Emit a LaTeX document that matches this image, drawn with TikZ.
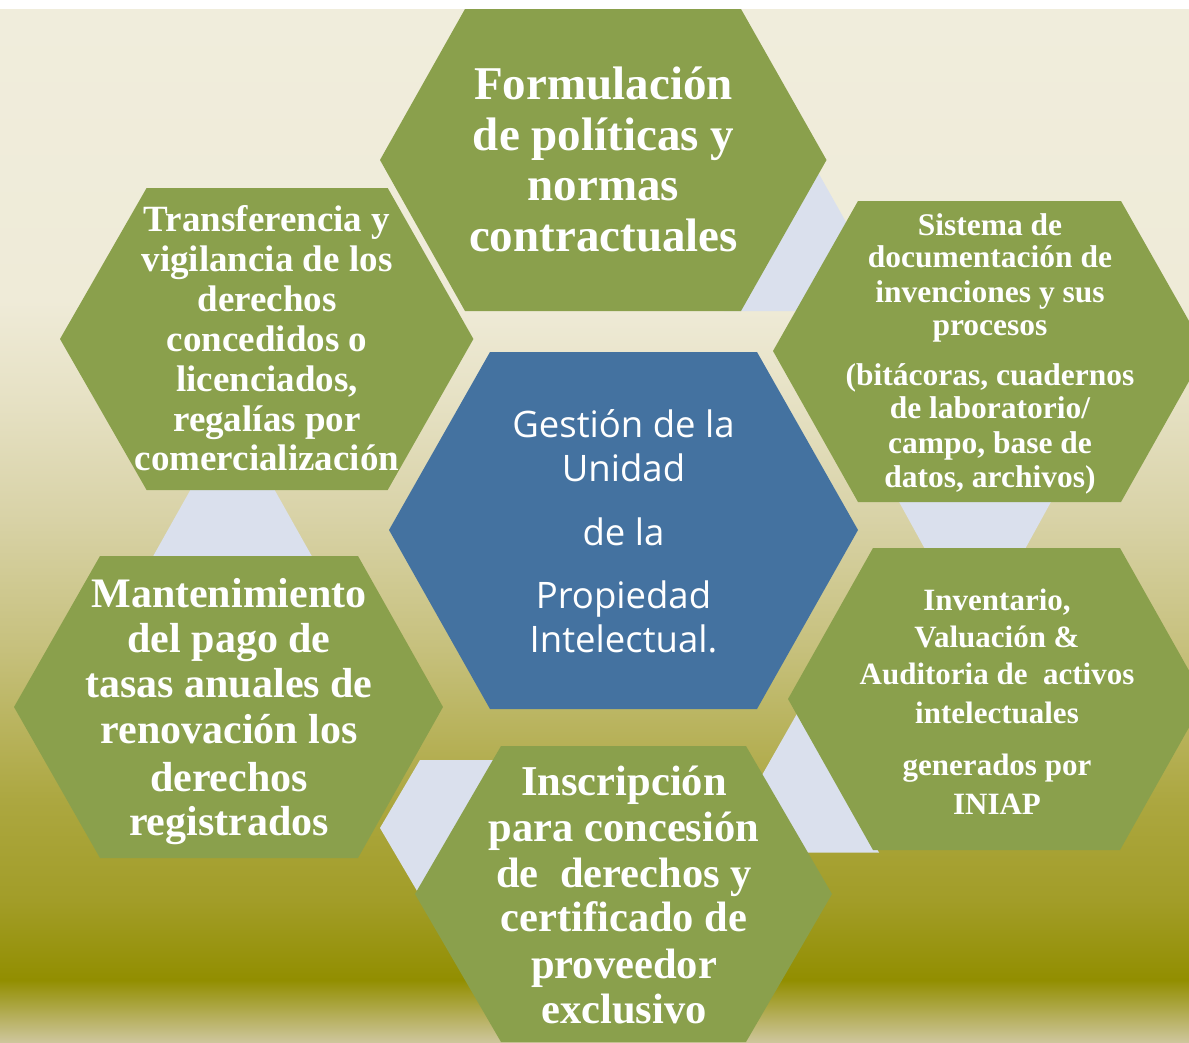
\documentclass[tikz,border=0pt]{standalone}
\usepackage{fontspec}
\setmainfont{Liberation Serif}
\newfontfamily\csans{Open Sans}
\definecolor{hexgreen}{RGB}{138,160,76}
\definecolor{hexblue}{RGB}{68,114,160}
\definecolor{connblue}{RGB}{218,224,237}
\definecolor{g0}{RGB}{240,237,220}
\definecolor{g1}{RGB}{239,235,216}
\definecolor{g2}{RGB}{230,225,196}
\definecolor{g3}{RGB}{216,210,166}
\definecolor{g4}{RGB}{198,192,124}
\definecolor{g5}{RGB}{172,167,64}
\definecolor{g6}{RGB}{162,157,40}
\definecolor{g7}{RGB}{146,142,0}
\definecolor{g8}{RGB}{206,198,156}
\tikzset{
  greenhex/.style={fill=hexgreen},
  bluehex/.style={fill=hexblue},
  connpart/.style={fill=connblue},
  gtxt/.style={text=white, inner sep=0pt, anchor=base},
  ftop/.style={gtxt, font=\bfseries\fontsize{47}{50}\selectfont},
  ftrans/.style={gtxt, font=\bfseries\fontsize{37}{40}\selectfont},
  fsis/.style={gtxt, font=\bfseries\fontsize{31.5}{34}\selectfont},
  fmant/.style={gtxt, font=\bfseries\fontsize{42}{45}\selectfont},
  finv/.style={gtxt, font=\bfseries\fontsize{31}{34}\selectfont},
  fins/.style={gtxt, font=\bfseries\fontsize{42.5}{45}\selectfont},
  fcen/.style={gtxt, font=\csans\fontsize{36.5}{40}\selectfont},
}
\begin{document}
\begin{tikzpicture}[x=1pt,y=-1pt]
\useasboundingbox (0,0) rectangle (1189,1042);
\clip (0,0) rectangle (1189,1042);
% background
\fill[white] (0,0) rectangle (1189,1042);
\foreach \ya/\yb/\ca/\cb in {9/300.5/g0/g1, 300/400.5/g1/g2, 400/520.5/g2/g3, 520/650.5/g3/g4, 650/800.5/g4/g5, 800/900.5/g5/g6, 900/980.5/g6/g7, 980/1042/g7/g8}
  \shade[top color=\ca, bottom color=\cb] (0,\ya) rectangle (1189,\yb);
% light blue connecting pieces
\fill[connpart] (724,311) -- (810,158) -- (896,311) -- cycle;
\fill[connpart] (898,500) -- (1052,500) -- (975,640) -- cycle;
\fill[connpart] (718,852.5) -- (798.5,711) -- (879,852.5) -- cycle;
\fill[connpart] (420,760) -- (560,760) -- (600,828) -- (560,896) -- (420,896) -- (380,828) -- cycle;
\fill[connpart] (151,560) -- (232.5,415) -- (314,560) -- cycle;
% hexagons
\fill[greenhex] (465,9) -- (741,9) -- (826.5,160) -- (741,311) -- (465,311) -- (380,160) -- cycle;
\fill[greenhex] (146.6,188) -- (387.7,188) -- (473.4,339) -- (387.7,490) -- (146.6,490) -- (60,339) -- cycle;
\fill[greenhex] (858,201) -- (1121,201) -- (1206,351) -- (1121,502) -- (858,502) -- (773,351) -- cycle;
\fill[bluehex] (490,352) -- (757,352) -- (858,530) -- (757,709) -- (490,709) -- (389,530) -- cycle;
\fill[greenhex] (100,556) -- (358,556) -- (443,707) -- (358,858) -- (100,858) -- (14,707) -- cycle;
\fill[greenhex] (873,548) -- (1120,548) -- (1205,699) -- (1120,850) -- (873,850) -- (788,699) -- cycle;
\fill[greenhex] (501,746) -- (746,746) -- (832,894) -- (746,1042) -- (501,1042) -- (415,894) -- cycle;
% texts: top
\node[ftop] (top1) at (603.5,99) {Formulación};
\node[ftop] (top2) at (603.5,150) {de políticas y};
\node[ftop] (top3) at (603.5,200) {normas};
\node[ftop] (top4) at (603.5,251) {contractuales};
% transferencia
\node[ftrans] (tr1) at (267,231) {Transferencia y};
\node[ftrans] (tr2) at (267,271) {vigilancia de los};
\node[ftrans] (tr3) at (267,311) {derechos};
\node[ftrans] (tr4) at (267,351) {concedidos o};
\node[ftrans] (tr5) at (267,391) {licenciados,};
\node[ftrans] (tr6) at (267,431) {regalías por};
\node[ftrans] (tr7) at (267,470) {comercialización};
% sistema
\node[fsis] (si1) at (990,235) {Sistema de};
\node[fsis] (si2) at (990,267) {documentación de};
\node[fsis] (si3) at (990,302) {invenciones y sus};
\node[fsis] (si4) at (990,335) {procesos};
\node[fsis] (si5) at (990,385) {(bitácoras, cuadernos};
\node[fsis] (si6) at (990,418) {de laboratorio/};
\node[fsis] (si7) at (990,453) {campo, base de};
\node[fsis] (si8) at (990,487) {datos, archivos)};
% center
\node[fcen] (ce1) at (623.5,437) {Gestión de la};
\node[fcen] (ce2) at (623.5,481) {Unidad};
\node[fcen] (ce3) at (623.5,545) {de la};
\node[fcen] (ce4) at (623.5,608) {Propiedad};
\node[fcen] (ce5) at (623.5,652) {Intelectual.};
% mantenimiento
\node[fmant] (ma1) at (229,607) {Mantenimiento};
\node[fmant] (ma2) at (229,652) {del pago de};
\node[fmant] (ma3) at (229,697) {tasas anuales de};
\node[fmant] (ma4) at (229,743) {renovación los};
\node[fmant] (ma5) at (229,791) {derechos};
\node[fmant] (ma6) at (229,835) {registrados};
% inventario
\node[finv] (in1) at (997,610) {Inventario,};
\node[finv] (in2) at (997,647) {Valuación \&};
\node[finv] (in3) at (997,684) {Auditoria de~~activos};
\node[finv] (in4) at (997,723) {intelectuales};
\node[finv] (in5) at (997,775) {generados por};
\node[finv] (in6) at (997,814) {INIAP};
% inscripcion
\node[fins] (is1) at (624,795) {Inscripción};
\node[fins] (is2) at (624,841) {para concesión};
\node[fins] (is3) at (624,887) {de~~derechos y};
\node[fins] (is4) at (624,931) {certificado de};
\node[fins] (is5) at (624,978) {proveedor};
\node[fins] (is6) at (624,1023) {exclusivo};
\end{tikzpicture}
\end{document}
